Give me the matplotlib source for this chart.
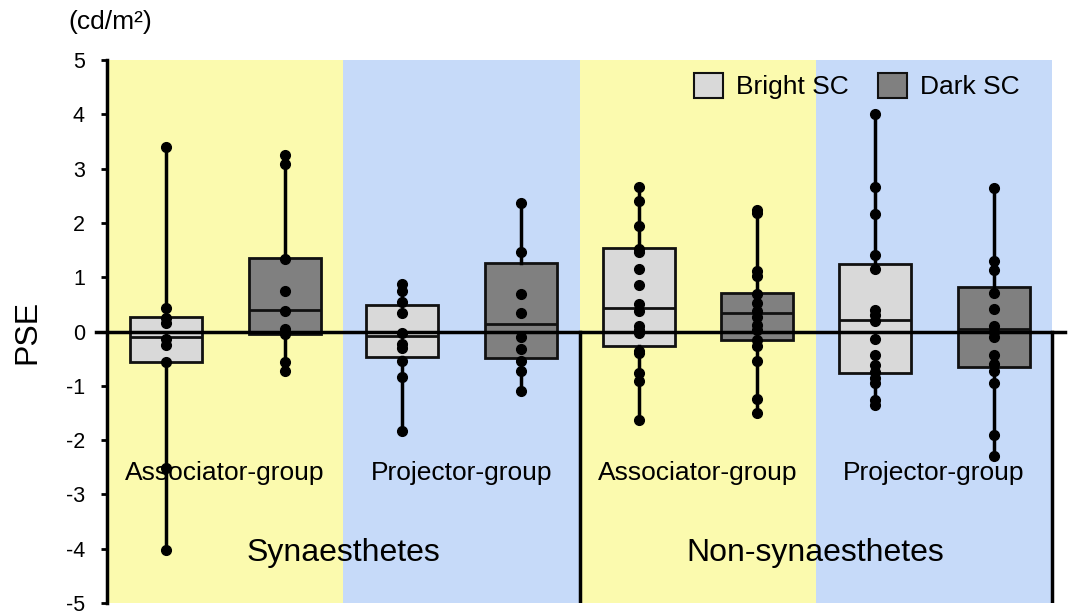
import matplotlib
matplotlib.use("Agg")
import matplotlib.pyplot as plt
from matplotlib.patches import Patch

plt.rcParams['font.family'] = ['Liberation Sans', 'DejaVu Sans']
plt.rcParams['axes.unicode_minus'] = False

groups = ["Associator-group", "Projector-group", "Associator-group", "Projector-group"]
populations = ["Synaesthetes", "Non-synaesthetes"]
series = ["Bright SC", "Dark SC"]

# individual PSE values (cd/m2)
syn_assoc_bright = [3.40, 0.43, 0.24, 0.16, -0.13, -0.24, -0.57, -2.51, -4.02]
syn_assoc_dark = [3.25, 3.09, 1.34, 0.74, 0.37, 0.05, -0.05, -0.56, -0.72]
syn_proj_bright = [0.88, 0.75, 0.54, 0.34, -0.02, -0.23, -0.30, -0.54, -0.84, -1.84]
syn_proj_dark = [2.37, 1.46, 0.69, 0.34, -0.10, -0.32, -0.55, -0.73, -1.09]
non_assoc_bright = [2.67, 2.41, 1.95, 1.52, 1.46, 1.15, 0.85, 0.51, 0.37, 0.11, 0.03, -0.03,
                    -0.35, -0.39, -0.76, -0.91, -1.63]
non_assoc_dark = [2.23, 2.18, 1.12, 1.02, 0.69, 0.52, 0.37, 0.26, 0.12, 0.02, -0.16, -0.26,
                  -0.55, -1.24, -1.51]
non_proj_bright = [4.01, 2.67, 2.16, 1.41, 1.16, 0.40, 0.31, 0.19, -0.13, -0.44, -0.62, -0.74,
                   -0.85, -0.94, -1.27, -1.35]
non_proj_dark = [2.64, 1.29, 1.13, 0.70, 0.42, 0.10, -0.01, -0.10, -0.44, -0.60, -0.73, -0.94,
                 -1.90, -2.30]

# box statistics: (q1, median, q3)
bright_q1 = [-0.555, -0.47, -0.26, -0.76]
bright_med = [-0.10, -0.09, 0.44, 0.22]
bright_q3 = [0.27, 0.49, 1.53, 1.24]
dark_q1 = [-0.04, -0.49, -0.165, -0.65]
dark_med = [0.40, 0.14, 0.335, 0.04]
dark_q3 = [1.35, 1.27, 0.71, 0.82]

bright_data = [syn_assoc_bright, syn_proj_bright, non_assoc_bright, non_proj_bright]
dark_data = [syn_assoc_dark, syn_proj_dark, non_assoc_dark, non_proj_dark]

yellow = "#fbfaae"
blue = "#c6daf9"
bright_col = "#d9d9d9"
dark_col = "#808080"

fig = plt.figure(figsize=(10.69, 6.14), dpi=100)
ax = fig.add_axes([107 / 1069, 11 / 614, (1065 - 107) / 1069, 543 / 614])

for i in range(4):
    ax.axvspan(i, i + 1, color=yellow if i % 2 == 0 else blue, zorder=0, lw=0)

ax.set_xlim(0, (1065 - 107) / 236.25)
ax.set_ylim(-5, 5)

def stats(vals, q1, med, q3):
    return dict(med=med, q1=q1, q3=q3, whislo=min(vals), whishi=max(vals), fliers=[])

bw = 0.305
for data, q1s, meds, q3s, col, off in [
        (bright_data, bright_q1, bright_med, bright_q3, bright_col, 0.25),
        (dark_data, dark_q1, dark_med, dark_q3, dark_col, 0.753)]:
    st = [stats(d, a, m, b) for d, a, m, b in zip(data, q1s, meds, q3s)]
    pos = [i + off for i in range(4)]
    ax.bxp(st, positions=pos, widths=bw, patch_artist=True, showcaps=False,
           boxprops=dict(facecolor=col, edgecolor="#111111", linewidth=2.0),
           medianprops=dict(color="#111111", linewidth=2.0),
           whiskerprops=dict(color="black", linewidth=2.5), zorder=2)
    for p, d in zip(pos, data):
        ax.plot([p] * len(d), d, "o", color="black", ms=7, zorder=4)

# zero line and separators
ax.plot([-0.045, ax.get_xlim()[1]], [0, 0], color="black", lw=2.5, zorder=3, clip_on=False)
ax.plot([2, 2], [0, -5], color="black", lw=2.5, zorder=3)
ax.plot([4, 4], [0, -5], color="black", lw=2.5, zorder=3)

for s in ["top", "right", "bottom"]:
    ax.spines[s].set_visible(False)
ax.spines["left"].set_linewidth(2.5)
ax.set_xticks([])
ax.set_yticks(range(-5, 6))
ax.tick_params(axis="y", labelsize=15.5, width=2, length=4, pad=12)
ax.set_ylabel("PSE", fontsize=23, labelpad=17)

for i, g in enumerate(groups):
    ax.text(i + 0.5, -2.6, g, ha="center", va="center", fontsize=19)
for j, p in enumerate(populations):
    ax.text(2 * j + 1, -4.08, p, ha="center", va="center", fontsize=23)

fig.text(110 / 1069, 1 - 22 / 614, "(cd/m²)", ha="center", va="center", fontsize=19)

handles = [Patch(facecolor=bright_col, edgecolor="#111111", lw=1.5, label=series[0]),
           Patch(facecolor=dark_col, edgecolor="#111111", lw=1.5, label=series[1])]
ax.legend(handles=handles, ncol=2, frameon=False, loc="upper right",
          bbox_to_anchor=(1030 / 1069, 1 - 62 / 614), bbox_transform=fig.transFigure,
          fontsize=19, handlelength=1.1, handleheight=1.1, handletextpad=0.5,
          columnspacing=1.1, borderaxespad=0)

fig.savefig("out.png", dpi=100)
